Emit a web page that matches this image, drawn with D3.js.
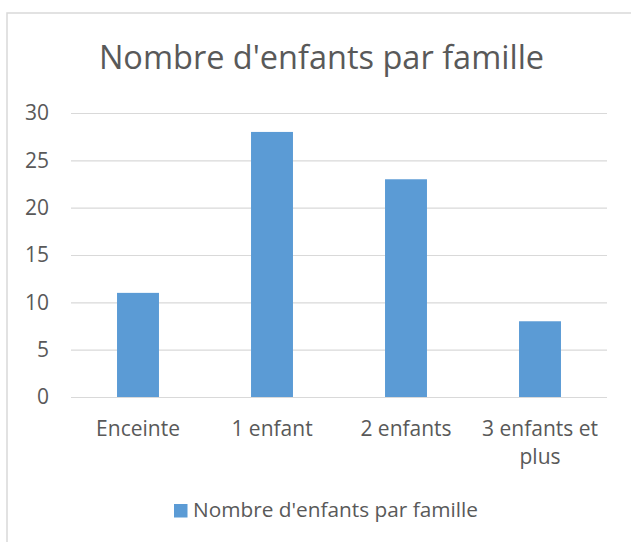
<!DOCTYPE html>
<html lang="fr">
<head>
<meta charset="UTF-8">
<title>Nombre d'enfants par famille</title>
<script src="https://d3js.org/d3.v7.min.js"></script>
<style>
  body { margin: 0; background: #fff; }
  svg text { font-family: "Open Sans", "Noto Sans", sans-serif; fill: #595959; }
</style>
</head>
<body>
<div id="chart"></div>
<script>
const categories = ["Enceinte", "1 enfant", "2 enfants", "3 enfants et plus"];
const values = [11, 28, 23, 8];
const yTicks = [0, 5, 10, 15, 20, 25, 30];
const seriesName = "Nombre d'enfants par famille";
const chartTitle = "Nombre d'enfants par famille";

const W = 631, H = 542;
const plot = { left: 71, right: 607, top: 113, bottom: 397 };

const svg = d3.select("#chart").append("svg")
    .attr("width", W)
    .attr("height", H);

// cadre du graphique
svg.append("rect")
    .attr("x", 7).attr("y", 13)
    .attr("width", 640).attr("height", 540)
    .attr("fill", "none")
    .attr("stroke", "#d9d9d9")
    .attr("stroke-width", 1.5);

const x = d3.scaleBand()
    .domain(categories)
    .range([plot.left, plot.right])
    .paddingInner(0.687)
    .paddingOuter(0.3435);

const y = d3.scaleLinear()
    .domain([0, 30])
    .range([plot.bottom, plot.top]);

// titre
svg.append("text")
    .attr("x", 321.5).attr("y", 69)
    .attr("text-anchor", "middle")
    .style("font-size", "32.5px")
    .text(chartTitle);

// grille + axe Y
const yAxis = svg.append("g")
    .attr("transform", `translate(${plot.left},0)`)
    .call(d3.axisLeft(y).tickValues(yTicks).tickSize(-(plot.right - plot.left)).tickPadding(22));
yAxis.select(".domain").remove();
yAxis.selectAll(".tick line").attr("stroke", "#d9d9d9").attr("stroke-width", 1.2);
yAxis.selectAll(".tick text")
    .style("font-size", "21px")
    .attr("fill", "#595959");

// barres
svg.selectAll(".bar")
    .data(values)
    .enter()
    .append("rect")
    .attr("class", "bar")
    .attr("x", (d, i) => x(categories[i]))
    .attr("y", d => y(d))
    .attr("width", x.bandwidth())
    .attr("height", d => y(0) - y(d))
    .attr("fill", "#5b9bd5");

// axe X
const xAxis = svg.append("g")
    .attr("transform", `translate(0,${plot.bottom})`)
    .call(d3.axisBottom(x).tickSize(0).tickPadding(0));
xAxis.select(".domain").attr("stroke", "#d9d9d9").attr("stroke-width", 1.2)
    .attr("d", `M${plot.left},0.5H${plot.right}`);
xAxis.selectAll(".tick text")
    .style("font-size", "21px")
    .attr("fill", "#595959")
    .attr("dy", null)
    .attr("y", 39)
    .call(wrap, x.step());

function wrap(sel, width) {
    sel.each(function () {
        const text = d3.select(this);
        const words = text.text().split(/\s+/);
        const yy = text.attr("y");
        text.text(null);
        let line = [];
        let lineNo = 0;
        let tspan = text.append("tspan").attr("x", 0).attr("y", yy);
        words.forEach(w => {
            line.push(w);
            tspan.text(line.join(" "));
            if (tspan.node().getComputedTextLength() > width - 10 && line.length > 1) {
                line.pop();
                tspan.text(line.join(" "));
                line = [w];
                lineNo++;
                tspan = text.append("tspan").attr("x", 0).attr("y", +yy + lineNo * 28).text(w);
            }
        });
    });
}

// légende
const legend = svg.append("g").attr("transform", "translate(174,504)");
legend.append("rect")
    .attr("width", 13.5).attr("height", 13.5)
    .attr("fill", "#5b9bd5");
legend.append("text")
    .attr("x", 19).attr("y", 13)
    .style("font-size", "20.8px")
    .text(seriesName);
</script>
</body>
</html>
